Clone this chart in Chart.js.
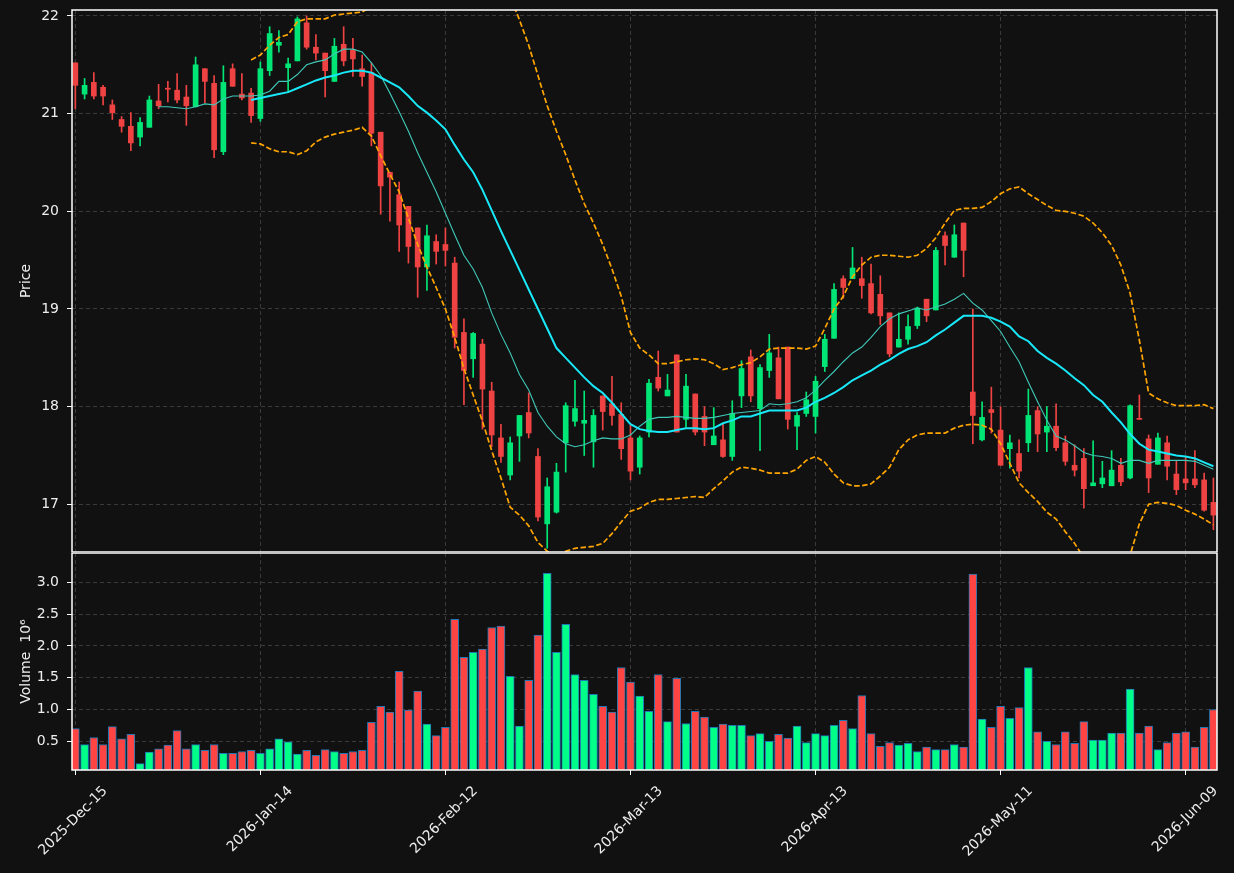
<!DOCTYPE html>
<html lang="en">
<head>
    <meta charset="utf-8">
    <title>Price and Volume</title>
    <script src="https://cdn.jsdelivr.net/npm/chart.js"></script>
    <style>
        html, body {
            margin: 0;
            padding: 0;
            background: #111111;
        }
        body {
            width: 1234px;
            height: 873px;
            position: relative;
            overflow: hidden;
        }
        #priceBox {
            position: absolute;
            left: 0;
            top: 0;
            width: 1234px;
            height: 552px;
        }
        #volBox {
            position: absolute;
            left: 0;
            top: 552px;
            width: 1234px;
            height: 321px;
        }
    </style>
</head>
<body>
    <div id="priceBox"><canvas id="priceChart"></canvas></div>
    <div id="volBox"><canvas id="volumeChart"></canvas></div>

    <script>
        // daily candles, index 0 = 2025-Dec-15
        const opens = [
            21.52, 21.20, 21.32, 21.27, 21.09, 20.94, 20.87, 20.76, 20.86, 21.13,
            21.26, 21.24, 21.17, 21.07, 21.46, 21.31, 20.61, 21.46, 21.20, 21.21,
            20.95, 21.44, 21.70, 21.47, 21.54, 21.93, 21.68, 21.62, 21.33, 21.71,
            21.65, 21.46, 21.42, 20.81, 20.40, 20.17, 20.05, 19.83, 19.43, 19.69,
            19.66, 19.47, 18.76, 18.49, 18.64, 18.16, 17.68, 17.30, 17.70, 17.94,
            17.49, 16.80, 16.92, 17.63, 17.85, 17.83, 17.64, 18.11, 18.03, 17.92,
            17.68, 17.38, 17.74, 18.30, 18.11, 18.53, 17.87, 18.13, 17.90, 17.61,
            17.66, 17.49, 18.11, 18.51, 17.98, 18.37, 18.50, 18.61, 17.80, 17.93,
            17.90, 18.41, 18.70, 19.31, 19.31, 19.31, 19.26, 19.15, 18.96, 18.61,
            18.69, 18.83, 19.10, 18.99, 19.75, 19.53, 19.88, 18.15, 17.66, 17.97,
            17.76, 17.57, 17.52, 17.63, 17.96, 17.74, 17.80, 17.63, 17.40, 17.47,
            17.19, 17.21, 17.19, 17.40, 17.27, 17.88, 17.67, 17.41, 17.63, 17.31,
            17.26, 17.26, 17.25, 17.02
        ];
        const highs = [
            21.52, 21.36, 21.42, 21.29, 21.14, 20.97, 21.01, 20.96, 21.18, 21.30,
            21.33, 21.41, 21.29, 21.58, 21.46, 21.39, 21.49, 21.51, 21.41, 21.26,
            21.53, 21.89, 21.85, 21.57, 21.99, 22.00, 21.81, 21.62, 21.77, 21.89,
            21.77, 21.60, 21.52, 20.81, 20.40, 20.30, 20.05, 19.83, 19.86, 19.76,
            19.83, 19.53, 18.90, 18.76, 18.69, 18.25, 17.82, 17.69, 17.91, 18.14,
            17.57, 17.27, 17.42, 18.04, 18.27, 18.16, 17.97, 18.11, 18.31, 18.04,
            17.81, 17.70, 18.28, 18.57, 18.33, 18.53, 18.33, 18.13, 18.00, 17.99,
            17.83, 18.06, 18.47, 18.58, 18.43, 18.74, 18.61, 18.61, 17.94, 18.15,
            18.31, 18.74, 19.26, 19.34, 19.63, 19.53, 19.46, 19.34, 18.96, 18.96,
            18.94, 19.02, 19.10, 19.63, 19.79, 19.86, 19.88, 19.00, 18.05, 18.20,
            18.00, 17.71, 17.66, 18.18, 18.00, 18.00, 18.03, 17.70, 17.61, 17.57,
            17.65, 17.44, 17.55, 17.47, 18.02, 18.12, 17.71, 17.73, 17.70, 17.44,
            17.49, 17.55, 17.32, 17.27
        ];
        const lows = [
            21.05, 21.15, 21.15, 21.09, 20.94, 20.81, 20.62, 20.67, 20.86, 21.05,
            21.12, 21.11, 20.88, 21.07, 21.11, 20.55, 20.58, 21.28, 21.14, 20.91,
            20.92, 21.39, 21.63, 21.22, 21.54, 21.66, 21.55, 21.17, 21.33, 21.49,
            21.38, 21.28, 20.67, 19.97, 19.90, 19.59, 19.47, 19.12, 19.19, 19.46,
            19.44, 18.60, 18.02, 18.30, 17.77, 17.59, 17.43, 17.25, 17.44, 17.68,
            16.83, 16.55, 16.91, 17.33, 17.80, 17.50, 17.38, 17.76, 17.81, 17.46,
            17.25, 17.31, 17.69, 18.16, 18.11, 17.74, 17.79, 17.71, 17.60, 17.61,
            17.48, 17.45, 17.99, 18.05, 17.55, 18.30, 18.08, 17.77, 17.56, 17.90,
            17.73, 18.36, 18.70, 19.11, 19.31, 19.11, 18.95, 18.84, 18.51, 18.61,
            18.64, 18.80, 18.87, 18.99, 19.45, 19.53, 19.33, 17.62, 17.65, 17.73,
            17.40, 17.37, 17.27, 17.54, 17.54, 17.54, 17.55, 17.40, 17.29, 16.96,
            17.19, 17.17, 17.19, 17.19, 17.26, 17.87, 17.12, 17.41, 17.25, 17.10,
            17.15, 17.17, 16.93, 16.74
        ];
        const closes = [
            21.29, 21.29, 21.18, 21.18, 21.01, 20.87, 20.70, 20.91, 21.14, 21.08,
            21.25, 21.14, 21.08, 21.50, 21.33, 20.63, 21.32, 21.28, 21.16, 20.98,
            21.46, 21.82, 21.73, 21.51, 21.97, 21.68, 21.62, 21.44, 21.69, 21.54,
            21.56, 21.38, 20.80, 20.26, 20.35, 19.86, 19.64, 19.43, 19.75, 19.59,
            19.60, 18.71, 18.37, 18.75, 18.18, 17.71, 17.49, 17.63, 17.91, 17.73,
            16.87, 17.18, 17.33, 18.01, 17.98, 17.86, 17.91, 17.95, 17.91, 17.57,
            17.34, 17.68, 18.24, 18.19, 18.17, 17.74, 18.21, 17.74, 17.74, 17.70,
            17.49, 17.93, 18.39, 18.11, 18.40, 18.55, 18.08, 17.87, 17.91, 18.07,
            18.26, 18.69, 19.20, 19.22, 19.42, 19.24, 18.96, 18.93, 18.54, 18.69,
            18.82, 19.01, 18.93, 19.60, 19.65, 19.76, 19.60, 17.91, 17.89, 17.94,
            17.40, 17.63, 17.34, 17.91, 17.72, 17.80, 17.58, 17.44, 17.35, 17.16,
            17.22, 17.27, 17.35, 17.23, 18.01, 17.87, 17.27, 17.68, 17.39, 17.15,
            17.22, 17.20, 16.94, 16.89
        ];
        // volume in millions
        const volumes = [
            0.70, 0.45, 0.56, 0.45, 0.73, 0.54, 0.61, 0.15, 0.33, 0.38,
            0.44, 0.67, 0.38, 0.45, 0.36, 0.45, 0.31, 0.31, 0.34, 0.36,
            0.31, 0.38, 0.54, 0.49, 0.30, 0.36, 0.28, 0.37, 0.34, 0.31,
            0.34, 0.36, 0.80, 1.05, 0.96, 1.60, 0.99, 1.29, 0.77, 0.59,
            0.72, 2.42, 1.82, 1.90, 1.95, 2.29, 2.31, 1.52, 0.74, 1.46,
            2.17, 3.14, 1.90, 2.34, 1.55, 1.46, 1.24, 1.05, 0.96, 1.66,
            1.43, 1.21, 0.97, 1.55, 0.81, 1.49, 0.78, 0.97, 0.88, 0.72,
            0.77, 0.75, 0.75, 0.59, 0.62, 0.50, 0.61, 0.55, 0.74, 0.48,
            0.62, 0.59, 0.75, 0.83, 0.70, 1.22, 0.62, 0.42, 0.48, 0.44,
            0.47, 0.34, 0.41, 0.37, 0.37, 0.45, 0.41, 3.13, 0.85, 0.72,
            1.05, 0.86, 1.03, 1.66, 0.65, 0.50, 0.45, 0.65, 0.47, 0.81,
            0.52, 0.52, 0.63, 0.63, 1.32, 0.63, 0.74, 0.37, 0.48, 0.63,
            0.65, 0.41, 0.72, 1.00
        ];

        // overlays, one value per day from the start index
        const ma10Start = 9;
        const ma10 = [
            21.07, 21.07, 21.06, 21.05, 21.07, 21.10, 21.09, 21.15, 21.18, 21.18,
            21.18, 21.19, 21.23, 21.33, 21.33, 21.40, 21.50, 21.53, 21.55, 21.61,
            21.66, 21.66, 21.63, 21.52, 21.39, 21.21, 21.02, 20.82, 20.60, 20.40,
            20.20, 19.98, 19.76, 19.55, 19.41, 19.22, 18.96, 18.74, 18.55, 18.33,
            18.17, 17.94, 17.80, 17.69, 17.62, 17.59, 17.61, 17.65, 17.68, 17.67,
            17.67, 17.71, 17.80, 17.87, 17.89, 17.89, 17.90, 17.89, 17.88, 17.88,
            17.89, 17.91, 17.93, 17.94, 17.95, 17.96, 18.03, 18.02, 18.03, 18.05,
            18.09, 18.17, 18.27, 18.36, 18.46, 18.55, 18.61, 18.71, 18.82, 18.90,
            18.95, 18.98, 19.01, 18.99, 19.02, 19.05, 19.10, 19.16, 19.06, 18.99,
            18.88, 18.77, 18.61, 18.46, 18.25, 18.05, 17.86, 17.70, 17.66, 17.60,
            17.53, 17.50, 17.49, 17.47, 17.42, 17.45, 17.45, 17.42, 17.45, 17.45,
            17.45, 17.45, 17.44, 17.40, 17.36
        ];
        const ma20Start = 19;
        const ma20 = [
            21.14, 21.16, 21.18, 21.20, 21.22, 21.26, 21.30, 21.34, 21.37, 21.39,
            21.42, 21.44, 21.44, 21.42, 21.37, 21.32, 21.27, 21.18, 21.08, 21.01,
            20.93, 20.84, 20.68, 20.53, 20.40, 20.22, 20.01, 19.80, 19.60, 19.40,
            19.20, 19.00, 18.80, 18.60, 18.50, 18.40, 18.30, 18.21, 18.14, 18.04,
            17.93, 17.82, 17.77, 17.75, 17.74, 17.74, 17.76, 17.78, 17.78, 17.77,
            17.78, 17.83, 17.86, 17.90, 17.90, 17.93, 17.96, 17.96, 17.96, 17.96,
            17.99, 18.05, 18.09, 18.14, 18.20, 18.27, 18.32, 18.37, 18.43, 18.48,
            18.54, 18.59, 18.62, 18.66, 18.73, 18.79, 18.86, 18.93, 18.93, 18.93,
            18.91, 18.87, 18.82, 18.72, 18.67, 18.57, 18.50, 18.44, 18.37, 18.29,
            18.22, 18.12, 18.05, 17.94, 17.84, 17.72, 17.62, 17.56, 17.54, 17.52,
            17.50, 17.49, 17.47, 17.43, 17.39
        ];
        const bandStart = 19;
        const upperBand = [
            21.55, 21.60, 21.70, 21.78, 21.81, 21.94, 21.97, 21.97, 21.97, 22.01,
            22.02, 22.03, 22.04, 22.10, 22.25, 22.40, 22.55, 22.70, 22.80, 22.85,
            22.85, 22.80, 22.75, 22.65, 22.55, 22.45, 22.35, 22.22, 22.20, 21.96,
            21.70, 21.39, 21.08, 20.82, 20.58, 20.32, 20.08, 19.88, 19.66, 19.41,
            19.13, 18.76, 18.60, 18.53, 18.44, 18.44, 18.46, 18.48, 18.49, 18.48,
            18.44, 18.38, 18.40, 18.43, 18.45, 18.51, 18.59, 18.60, 18.60, 18.60,
            18.59, 18.62, 18.80, 19.00, 19.13, 19.33, 19.45, 19.53, 19.55, 19.55,
            19.54, 19.53, 19.55, 19.62, 19.73, 19.88, 20.01, 20.03, 20.03, 20.04,
            20.10, 20.18, 20.23, 20.25, 20.18, 20.12, 20.06, 20.01, 20.00, 19.98,
            19.95, 19.88, 19.78, 19.65, 19.45, 19.16, 18.68, 18.14, 18.08, 18.04,
            18.01, 18.01, 18.01, 18.02, 17.98
        ];
        const lowerBand = [
            20.70, 20.69, 20.64, 20.61, 20.61, 20.58, 20.62, 20.71, 20.76, 20.79,
            20.81, 20.83, 20.86, 20.77, 20.57, 20.38, 20.20, 19.93, 19.66, 19.43,
            19.22, 19.00, 18.71, 18.39, 18.12, 17.85, 17.55, 17.27, 16.97, 16.89,
            16.78, 16.61, 16.52, 16.47, 16.52, 16.55, 16.56, 16.57, 16.60, 16.70,
            16.82, 16.93, 16.96, 17.02, 17.05, 17.05, 17.06, 17.07, 17.08, 17.07,
            17.16, 17.24, 17.33, 17.38, 17.37, 17.35, 17.32, 17.32, 17.32, 17.36,
            17.45, 17.49, 17.43, 17.31, 17.22, 17.19, 17.19, 17.21, 17.29, 17.38,
            17.56, 17.66, 17.71, 17.73, 17.73, 17.73, 17.78, 17.81, 17.82, 17.81,
            17.77, 17.62, 17.42, 17.22, 17.12, 17.03, 16.92, 16.85, 16.72, 16.60,
            16.45, 16.30, 16.20, 16.20, 16.30, 16.48, 16.80, 17.00, 17.02, 17.01,
            16.99, 16.94, 16.90, 16.85, 16.79
        ];

        // axis ticks
        const xTickIdx = [0, 20, 40, 60, 80, 100, 120];
        const xTickLabels = ['2025-Dec-15', '2026-Jan-14', '2026-Feb-12', '2026-Mar-13', '2026-Apr-13', '2026-May-11', '2026-Jun-09'];
        const priceTicks = [17, 18, 19, 20, 21, 22];
        const volumeTicks = [0.5, 1.0, 1.5, 2.0, 2.5, 3.0];

        const xMin = -0.36;
        const xMax = 123.39;
        const gridColor = '#3a3a3a';
        const textColor = '#eeeeee';
        const font = { family: "'DejaVu Sans', sans-serif", size: 14 };

        Chart.defaults.font.family = font.family;
        Chart.defaults.font.size = 14;
        Chart.defaults.color = textColor;

        const isUp = closes.map((c, i) => c >= opens[i]);
        const candleColors = isUp.map(u => u ? '#00e676' : '#ef4343');
        const volumeColors = isUp.map(u => u ? '#00ff88' : '#ff4444');

        const series = (start, values) => values.map((v, k) => ({ x: start + k, y: v }));

        // white box around each plot area
        const frame = {
            id: 'frame',
            afterDraw(chart) {
                const a = chart.chartArea;
                const ctx = chart.ctx;
                ctx.save();
                ctx.strokeStyle = '#ffffff';
                ctx.lineWidth = 1.5;
                ctx.strokeRect(a.left, a.top, a.right - a.left, a.bottom - a.top);
                ctx.restore();
            }
        };

        const xScale = (showLabels) => ({
            type: 'linear',
            min: xMin,
            max: xMax,
            offset: false,
            afterBuildTicks: s => { s.ticks = xTickIdx.map(v => ({ value: v })); },
            afterFit: s => {
                s.height = showLabels ? 103 : 0;
                s.paddingLeft = 0;
                s.paddingRight = 0;
            },
            ticks: showLabels ? {
                color: textColor,
                font: font,
                autoSkip: false,
                minRotation: 45,
                maxRotation: 45,
                labelOffset: 30,
                padding: 8,
                callback: (v, i) => xTickLabels[i]
            } : { display: false },
            grid: {
                color: gridColor,
                offset: false,
                drawTicks: showLabels,
                tickLength: 5,
                tickColor: '#ffffff',
                tickWidth: 1
            },
            border: { display: false, dash: [4, 3] }
        });

        const yScale = (min, max, tickValues, title, fmt) => ({
            type: 'linear',
            position: 'left',
            min: min,
            max: max,
            afterBuildTicks: s => { s.ticks = tickValues.map(v => ({ value: v })); },
            afterFit: s => {
                s.width = 72;
                s.paddingTop = 0;
                s.paddingBottom = 0;
            },
            ticks: {
                color: textColor,
                font: font,
                padding: 8,
                callback: fmt
            },
            grid: {
                color: gridColor,
                tickLength: 5,
                tickColor: '#ffffff',
                tickWidth: 1
            },
            border: { display: false, dash: [4, 3] },
            title: {
                display: true,
                text: title,
                color: textColor,
                font: font,
                padding: { top: 18, bottom: 0 }
            }
        });

        new Chart(document.getElementById('priceChart'), {
            type: 'bar',
            data: {
                datasets: [
                    {
                        type: 'line',
                        data: series(bandStart, upperBand),
                        borderColor: '#ffa500',
                        borderWidth: 1.7,
                        borderDash: [5.5, 2.5],
                        pointRadius: 0,
                        order: 0
                    },
                    {
                        type: 'line',
                        data: series(bandStart, lowerBand),
                        borderColor: '#ffa500',
                        borderWidth: 1.7,
                        borderDash: [5.5, 2.5],
                        pointRadius: 0,
                        order: 0
                    },
                    {
                        type: 'line',
                        data: series(ma20Start, ma20),
                        borderColor: '#18e8f8',
                        borderWidth: 2,
                        pointRadius: 0,
                        order: 0
                    },
                    {
                        type: 'line',
                        data: series(ma10Start, ma10),
                        borderColor: '#3fc9b8',
                        borderWidth: 1.1,
                        pointRadius: 0,
                        order: 0
                    },
                    {
                        // candle bodies
                        data: opens.map((o, i) => ({ x: i, y: [o, closes[i]] })),
                        backgroundColor: candleColors,
                        barThickness: 5,
                        minBarLength: 1,
                        grouped: false,
                        order: 1
                    },
                    {
                        // wicks
                        data: lows.map((l, i) => ({ x: i, y: [l, highs[i]] })),
                        backgroundColor: candleColors,
                        barThickness: 1,
                        grouped: false,
                        order: 2
                    }
                ]
            },
            options: {
                responsive: true,
                maintainAspectRatio: false,
                animation: false,
                devicePixelRatio: 1,
                layout: { autoPadding: false, padding: { left: 0, right: 17, top: 10, bottom: 0 } },
                plugins: { legend: { display: false }, tooltip: { enabled: false } },
                scales: {
                    x: xScale(false),
                    y: yScale(16.512, 22.061, priceTicks, 'Price', v => String(v))
                }
            },
            plugins: [frame]
        });

        new Chart(document.getElementById('volumeChart'), {
            type: 'bar',
            data: {
                datasets: [{
                    data: volumes.map((v, i) => ({ x: i, y: v })),
                    backgroundColor: volumeColors,
                    borderColor: '#1f77b4',
                    borderWidth: 1,
                    barThickness: 8,
                    grouped: false
                }]
            },
            options: {
                responsive: true,
                maintainAspectRatio: false,
                animation: false,
                devicePixelRatio: 1,
                layout: { autoPadding: false, padding: { left: 0, right: 17, top: 1, bottom: 0 } },
                plugins: { legend: { display: false }, tooltip: { enabled: false } },
                scales: {
                    x: xScale(true),
                    y: yScale(0.049, 3.461, volumeTicks, 'Volume  10\u2076', v => v.toFixed(1))
                }
            },
            plugins: [frame]
        });
    </script>
</body>
</html>
